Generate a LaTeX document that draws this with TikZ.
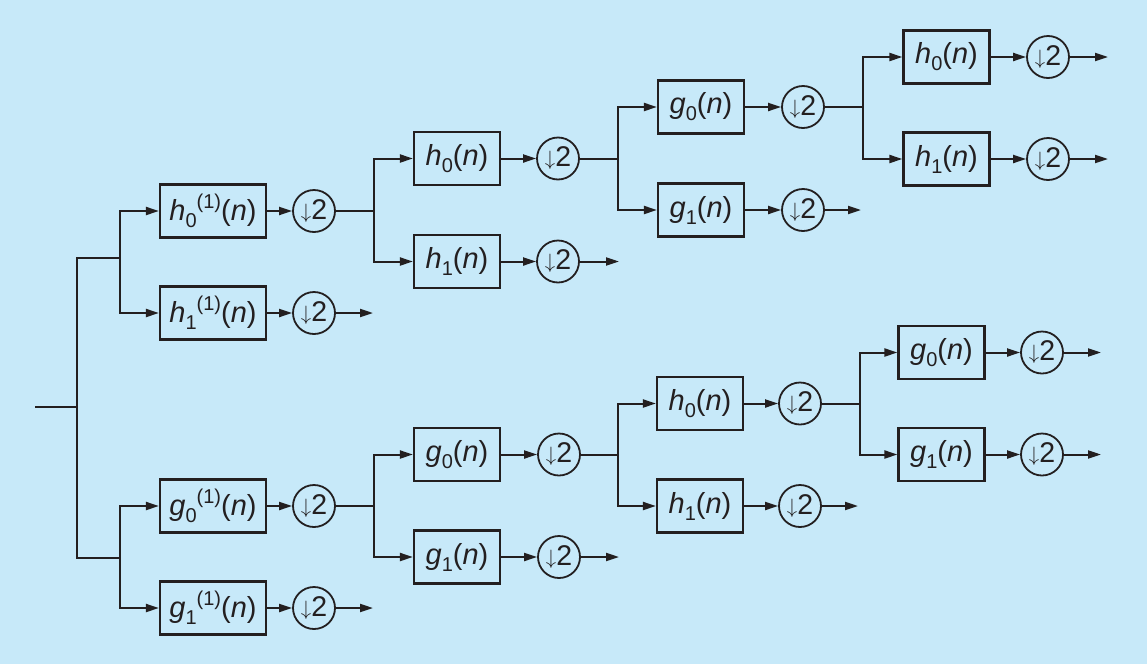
\documentclass[tikz,border=0pt]{standalone}
\usepackage{fontspec}
\setmainfont{Liberation Sans}
\usetikzlibrary{arrows.meta}
\definecolor{bgblue}{RGB}{199,233,249}
\definecolor{ink}{RGB}{35,31,32}
% filter labels: italic name, upright index, optional (1) superscript
\newcommand{\lo}[1]{\raisebox{-7pt}{\fontsize{20}{20}\selectfont #1}}
\newcommand{\hi}[1]{\raisebox{12pt}{\fontsize{20}{20}\selectfont #1}}
\newcommand{\filt}[2]{\textit{#1}\lo{#2}(\textit{n})}
\newcommand{\filtone}[2]{\textit{#1}\lo{#2}\hi{(1)}(\textit{n})}
\newcommand{\dn}{\raisebox{1pt}{\fontsize{22}{22}\selectfont$\downarrow$}2}
\begin{document}
\begin{tikzpicture}[x=1pt,y=-1pt,
  every node/.style={text=ink},
  fbox/.style={draw=ink,line width=2.2pt,minimum height=53pt,inner sep=0pt,
    font=\fontsize{29}{34}\selectfont},
  widebox/.style={fbox,minimum width=106pt},
  narrowbox/.style={fbox,minimum width=86pt},
  dsamp/.style={circle,draw=ink,line width=1.8pt,minimum size=42pt,inner sep=0pt,
    font=\fontsize{28.5}{34}\selectfont},
  wire/.style={draw=ink,line width=2pt},
  arr/.style={wire,-{Triangle[length=13pt,width=8pt]}}]
\fill[bgblue] (0,0) rectangle (1147,664);
\useasboundingbox (0,0) rectangle (1147,664);

% ---- junction points and free ends
\coordinate (in) at (35,407);
\coordinate (j0) at (77,407);
\coordinate (s1t) at (120,258);
\coordinate (s1b) at (120,558);
\coordinate (s2t) at (374,211);
\coordinate (s2b) at (374,506);
\coordinate (s3t) at (618,158.5);
\coordinate (s3b) at (618,454.5);
\coordinate (s4t) at (863,107);
\coordinate (s4b) at (860,403.5);
\coordinate (ea1) at (373,313);
\coordinate (eb1) at (373,608);
\coordinate (ec1) at (619,261.5);
\coordinate (ed1) at (619,557);
\coordinate (ee1) at (861,210);
\coordinate (ef1) at (858,506);
\coordinate (eg0) at (1108,57);
\coordinate (eg1) at (1108,159);
\coordinate (eh0) at (1101,352.5);
\coordinate (eh1) at (1101,454.5);

% ---- first level
\node[widebox] (a0) at (213,211) {\filtone{h}{0}};
\node[widebox] (a1) at (213,313) {\filtone{h}{1}};
\node[widebox] (b0) at (213,506) {\filtone{g}{0}};
\node[widebox] (b1) at (213,608) {\filtone{g}{1}};
\node[dsamp] (da0) at (314,211) {\dn};
\node[dsamp] (da1) at (314,313) {\dn};
\node[dsamp] (db0) at (314,506) {\dn};
\node[dsamp] (db1) at (314,608) {\dn};

% ---- second level
\node[narrowbox] (c0) at (457,158.5) {\filt{h}{0}};
\node[narrowbox] (c1) at (457,261.5) {\filt{h}{1}};
\node[narrowbox] (d0) at (457,454.5) {\filt{g}{0}};
\node[narrowbox] (d1) at (457,557) {\filt{g}{1}};
\node[dsamp] (dc0) at (558,158.5) {\dn};
\node[dsamp] (dc1) at (558,261.5) {\dn};
\node[dsamp] (dd0) at (559,454.5) {\dn};
\node[dsamp] (dd1) at (559,557) {\dn};

% ---- third level
\node[narrowbox] (e0) at (701,107) {\filt{g}{0}};
\node[narrowbox] (e1) at (701,210) {\filt{g}{1}};
\node[narrowbox] (f0) at (700,403.5) {\filt{h}{0}};
\node[narrowbox] (f1) at (700,506) {\filt{h}{1}};
\node[dsamp] (de0) at (803,107) {\dn};
\node[dsamp] (de1) at (803,210) {\dn};
\node[dsamp] (df0) at (800,403.5) {\dn};
\node[dsamp] (df1) at (800,506) {\dn};

% ---- fourth level
\node[narrowbox] (g0) at (946.5,57) {\filt{h}{0}};
\node[narrowbox] (g1) at (946.5,159) {\filt{h}{1}};
\node[narrowbox] (h0) at (941.5,352.5) {\filt{g}{0}};
\node[narrowbox] (h1) at (941.5,454.5) {\filt{g}{1}};
\node[dsamp] (dg0) at (1048,57) {\dn};
\node[dsamp] (dg1) at (1048,159) {\dn};
\node[dsamp] (dh0) at (1042,352.5) {\dn};
\node[dsamp] (dh1) at (1042,454.5) {\dn};

% ---- connectors
\draw[wire] (in) -- (j0);
\draw[wire] (j0) |- (s1t);
\draw[wire] (j0) |- (s1b);

\draw[arr] (s1t) |- (a0);
\draw[arr] (s1t) |- (a1);
\draw[arr] (s1b) |- (b0);
\draw[arr] (s1b) |- (b1);
\draw[arr] (a0) -- (da0);
\draw[arr] (a1) -- (da1);
\draw[arr] (b0) -- (db0);
\draw[arr] (b1) -- (db1);
\draw[wire] (da0) -- (s2t);
\draw[arr] (da1) -- (ea1);
\draw[wire] (db0) -- (s2b);
\draw[arr] (db1) -- (eb1);

\draw[arr] (s2t) |- (c0);
\draw[arr] (s2t) |- (c1);
\draw[arr] (s2b) |- (d0);
\draw[arr] (s2b) |- (d1);
\draw[arr] (c0) -- (dc0);
\draw[arr] (c1) -- (dc1);
\draw[arr] (d0) -- (dd0);
\draw[arr] (d1) -- (dd1);
\draw[wire] (dc0) -- (s3t);
\draw[arr] (dc1) -- (ec1);
\draw[wire] (dd0) -- (s3b);
\draw[arr] (dd1) -- (ed1);

\draw[arr] (s3t) |- (e0);
\draw[arr] (s3t) |- (e1);
\draw[arr] (s3b) |- (f0);
\draw[arr] (s3b) |- (f1);
\draw[arr] (e0) -- (de0);
\draw[arr] (e1) -- (de1);
\draw[arr] (f0) -- (df0);
\draw[arr] (f1) -- (df1);
\draw[wire] (de0) -- (s4t);
\draw[arr] (de1) -- (ee1);
\draw[wire] (df0) -- (s4b);
\draw[arr] (df1) -- (ef1);

\draw[arr] (s4t) |- (g0);
\draw[arr] (s4t) |- (g1);
\draw[arr] (s4b) |- (h0);
\draw[arr] (s4b) |- (h1);
\draw[arr] (g0) -- (dg0);
\draw[arr] (g1) -- (dg1);
\draw[arr] (h0) -- (dh0);
\draw[arr] (h1) -- (dh1);
\draw[arr] (dg0) -- (eg0);
\draw[arr] (dg1) -- (eg1);
\draw[arr] (dh0) -- (eh0);
\draw[arr] (dh1) -- (eh1);
\end{tikzpicture}
\end{document}
